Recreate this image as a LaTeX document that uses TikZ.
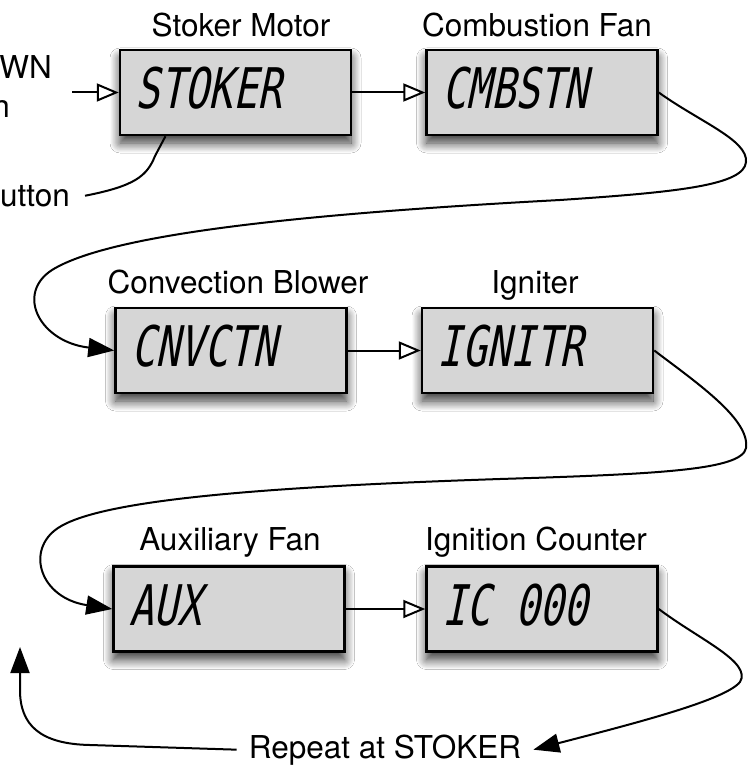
\documentclass[tikz,border=0pt]{standalone}
\usepackage{fontspec}
\setmainfont{TeX Gyre Heros}
\newfontfamily\lcdfont{DejaVu Sans Mono}[FakeSlant=0.2,FakeStretch=0.72]
\usetikzlibrary{arrows.meta,shadows.blur,calc}
\definecolor{boxgray}{RGB}{214,214,214}
\begin{document}
\begin{tikzpicture}[x=1pt,y=-1pt,
  lcdbox/.style={draw=black,line width=2.5pt,fill=boxgray,minimum width=231pt,minimum height=85pt,inner sep=0pt,
    blur shadow={shadow xshift=0pt,shadow yshift=-8pt,shadow blur radius=10pt,shadow blur steps=12,shadow opacity=80}},
  lbl/.style={font=\fontsize{31.5}{37}\selectfont,anchor=base,inner sep=0pt},
  lcd/.style={font=\lcdfont\fontsize{56}{60}\selectfont,anchor=base west,inner sep=0pt},
  conn/.style={line width=2pt,draw=black},
  openarr/.style={-{Triangle[open,length=22pt,width=18pt,fill=white]}},
  fillarr/.style={-{Triangle[length=26pt,width=19pt]}}]
\useasboundingbox (0,0) rectangle (747,767);
\fill[white] (0,0) rectangle (747,767);

% boxes
\node[lcdbox] (b1) at (235.5,92.5) {};
\node[lcdbox] (b2) at (542,92.5) {};
\node[lcdbox] (b3) at (231,350.5) {};
\node[lcdbox] (b4) at (537.5,350.5) {};
\node[lcdbox] (b5) at (229,609) {};
\node[lcdbox] (b6) at (542,609) {};

% LCD texts
\node[lcd] (t1) at ([xshift=17pt,yshift=-60pt]b1.north west) {STOKER};
\node[lcd] (t2) at ([xshift=17pt,yshift=-60pt]b2.north west) {CMBSTN};
\node[lcd] (t3) at ([xshift=17pt,yshift=-60pt]b3.north west) {CNVCTN};
\node[lcd] (t4) at ([xshift=17pt,yshift=-60pt]b4.north west) {IGNITR};
\node[lcd] (t5) at ([xshift=17pt,yshift=-60pt]b5.north west) {AUX};
\node[lcd] (t6) at ([xshift=17pt,yshift=-60pt]b6.north west) {IC 000};

% labels
\node[lbl] (l1) at (241,37) {Stoker Motor};
\node[lbl] (l2) at (537,37) {Combustion Fan};
\node[lbl] (l3) at (238,293) {Convection Blower};
\node[lbl] (l4) at (535,293) {Igniter};
\node[lbl] (l5) at (230,550) {Auxiliary Fan};
\node[lbl] (l6) at (536,550) {Ignition Counter};

% left cut-off texts
\node[lbl,anchor=base east] (tdown) at (52,79) {DOWN};
\node[lbl,anchor=base east] (ton) at (10,118) {on};
\node[lbl,anchor=base east,inner xsep=15pt] (tbtn) at (85,207) {button};

% repeat text
\node[lbl,inner xsep=12pt] (rep) at (385,758) {Repeat at STOKER};

% coordinates
\coordinate (in0) at (72,92.5);
\coordinate (b1b) at ($(b1.south west)!0.2!(b1.south east)$);
\coordinate (rtip) at (20,647);

% straight arrows
\draw[conn,openarr] (in0) -- (b1);
\draw[conn,openarr] (b1) -- (b2);
\draw[conn,openarr] (b3) -- (b4);
\draw[conn,openarr] (b5) -- (b6);

% button line
\draw[conn] (tbtn.east) .. controls (135,186) and (147,176) .. (155,156) -- (b1b);

% wrap-around curves
\draw[conn,fillarr] (b2.east) .. controls (700,122) and (748,140) .. (746,162)
  .. controls (744,185) and (680,192) .. (560,200)
  .. controls (300,214) and (110,234) .. (52,270)
  .. controls (15,294) and (40,342) .. (b3.west);

\draw[conn,fillarr] (b4.east) .. controls (700,385) and (750,420) .. (746,448)
  .. controls (742,470) and (660,474) .. (500,479)
  .. controls (260,487) and (100,500) .. (58,528)
  .. controls (25,550) and (40,598) .. (b5.west);

\draw[conn,fillarr] (b6.east) .. controls (700,640) and (752,662) .. (740,682)
  .. controls (725,700) and (640,722) .. (rep.east);

\draw[conn,fillarr] (rep.west) -- (90,745) .. controls (40,744) and (20,725) .. (20,690) -- (rtip);
\end{tikzpicture}
\end{document}
